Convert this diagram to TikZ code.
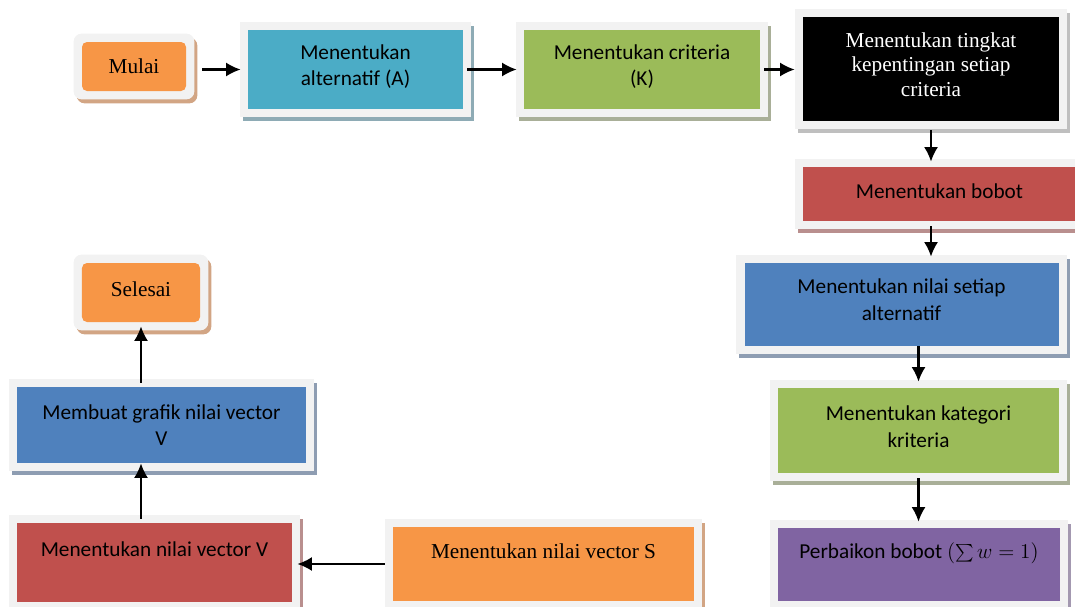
\documentclass[tikz,border=0pt]{standalone}
\usepackage{fontspec}
\setmainfont{Carlito}
\newfontfamily\timesfont{Liberation Serif}
\usepackage{tikz}
\usetikzlibrary{arrows.meta,calc,backgrounds}
\definecolor{framegray}{HTML}{f2f2f2}
\definecolor{boxorange}{HTML}{f79646}
\definecolor{boxteal}{HTML}{4bacc6}
\definecolor{boxgreen}{HTML}{9bbb59}
\definecolor{boxred}{HTML}{c0504d}
\definecolor{boxblue}{HTML}{4f81bd}
\definecolor{boxpurple}{HTML}{8064a2}
\definecolor{shorange}{HTML}{d2a584}
\definecolor{shteal}{HTML}{8eabb5}
\definecolor{shgreen}{HTML}{a9af98}
\definecolor{shgray}{HTML}{bfbfbf}
\definecolor{shred}{HTML}{b98f8e}
\definecolor{shblue}{HTML}{8e9db2}
\definecolor{shpurple}{HTML}{a398b0}

\begin{document}
\begin{tikzpicture}[x=0.2mm, y=-0.2mm, >=Latex,
  every node/.style={font=\fontsize{12.1}{15.1}\selectfont},
  stepbox/.style={align=center, inner sep=2pt},
  serifbox/.style={font=\timesfont\fontsize{12.1}{13.8}\selectfont},
  toptext/.style={text height=3mm, text depth=5.4mm},
  flow/.style={->, line width=1.2pt, >={Latex[length=2.9mm, width=2.8mm]}}]
  \useasboundingbox (0,0) rectangle (1075,607);
  % top row
  \node[stepbox, serifbox, fill=boxorange, rounded corners=1mm, minimum width=20.8mm, minimum height=9.8mm] (mulai) at (134,66.5) {Mulai};
  \node[stepbox, text depth=1.8mm, fill=boxteal, minimum width=43mm, minimum height=15.8mm] (alt) at (355.5,69.5) {Menentukan\\alternatif (A)};
  \node[stepbox, text depth=1.8mm, fill=boxgreen, minimum width=47.2mm, minimum height=15.8mm] (crit) at (642,69.5) {Menentukan criteria\\(K)};
  \node[stepbox, serifbox, text depth=1.8mm, fill=black, text=white, minimum width=51.2mm, minimum height=20.8mm] (imp) at (931,69) {Menentukan tingkat\\kepentingan setiap\\criteria};
  % right column
  \node[stepbox, text depth=1.2mm, fill=boxred, minimum width=54.6mm, minimum height=10.8mm] (bobot) at (939.5,194) {Menentukan bobot};
  \node[stepbox, text depth=2mm, fill=boxblue, minimum width=62.8mm, minimum height=16.6mm] (nilai) at (901.5,304.5) {Menentukan nilai setiap\\alternatif};
  \node[stepbox, text depth=1.6mm, fill=boxgreen, minimum width=56.2mm, minimum height=17mm] (kat) at (918.5,430.5) {Menentukan kategori\\kriteria};
  \node[stepbox, toptext, fill=boxpurple, minimum width=56.4mm, minimum height=14.6mm] (perb) at (919,564.5) {Perbaikon bobot $(\textstyle\sum w = 1)$};
  % bottom row and left column
  \node[stepbox, serifbox, toptext, fill=boxorange, minimum width=60.2mm, minimum height=14.8mm] (vecS) at (543.5,564) {Menentukan nilai vector S};
  \node[stepbox, toptext, fill=boxred, minimum width=55mm, minimum height=15.8mm] (vecV) at (154.5,562.5) {Menentukan nilai vector V};
  \node[stepbox, fill=boxblue, minimum width=57.8mm, minimum height=15.2mm] (grafik) at (161.5,425) {Membuat grafik nilai vector\\V};
  \node[stepbox, serifbox, text depth=1.2mm, fill=boxorange, rounded corners=1mm, minimum width=23.6mm, minimum height=11.8mm] (selesai) at (141,292.5) {Selesai};
  % frames and shadows behind the boxes
  \begin{scope}[on background layer]
    \foreach \n/\sh/\rc in {mulai/shorange/1.6mm, alt/shteal/0mm, crit/shgreen/0mm, imp/shgray/0mm,
                           bobot/shred/0mm, nilai/shblue/0mm, kat/shgreen/0mm, perb/shpurple/0mm,
                           vecS/shorange/0mm, vecV/shred/0mm, grafik/shblue/0mm, selesai/shorange/1.6mm}{
      \fill[\sh, rounded corners=\rc] ($(\n.north west)+(-5,-4)$) rectangle ($(\n.south east)+(11,12)$);
      \fill[framegray, rounded corners=\rc] ($(\n.north west)+(-8,-8)$) rectangle ($(\n.south east)+(8,8)$);
    }
  \end{scope}
  % connectors
  \draw[flow, shorten <=3.2mm, shorten >=1.4mm] (mulai.east |- alt.west) -- (alt.west);
  \draw[flow, shorten <=0.8mm, shorten >=1.4mm] (alt.east) -- (crit.west);
  \draw[flow, shorten <=0.8mm, shorten >=1.6mm] (crit.east) -- (crit.east -| imp.west);
  \draw[flow, shorten <=1.8mm, shorten >=1mm] (imp.south) -- (imp.south |- bobot.north);
  \draw[flow, shorten <=1mm, shorten >=1.2mm] (bobot.south -| imp.south) -- (nilai.north -| imp.south);
  \draw[flow, shorten >=1.2mm] (nilai.south -| kat.north) -- (kat.north);
  \draw[flow, shorten <=1mm, shorten >=1.2mm] (kat.south) -- (kat.south |- perb.north);
  \draw[flow, shorten <=1.6mm, shorten >=1mm] (vecS.west) -- (vecS.west -| vecV.east);
  \draw[flow, shorten <=0.8mm] (vecV.north -| selesai.south) -- (grafik.south -| selesai.south);
  \draw[flow, shorten <=0.8mm, shorten >=0.8mm] (grafik.north -| selesai.south) -- (selesai.south);
\end{tikzpicture}
\end{document}
